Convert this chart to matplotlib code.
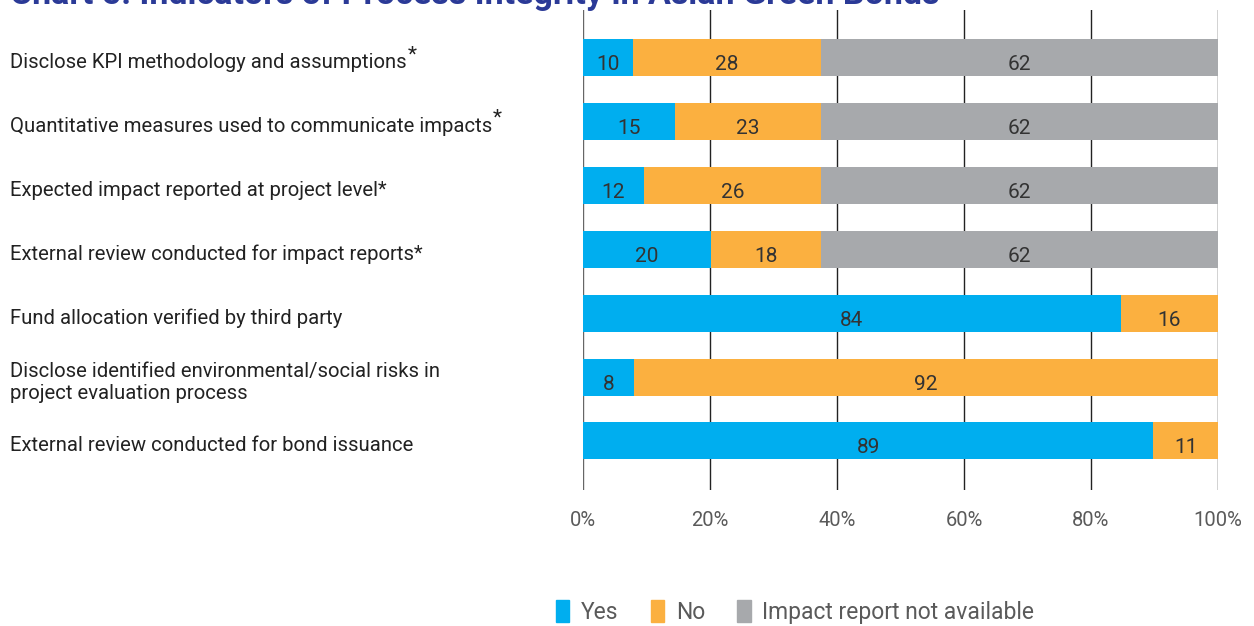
import matplotlib.pyplot as plt
from matplotlib.patches import Patch

plt.rcParams['font.family'] = ['Roboto', 'DejaVu Sans']

# Categorias (de cima para baixo)
categorias = [
    'Disclose KPI methodology and assumptions',
    'Quantitative measures used to communicate impacts',
    'Expected impact reported at project level*',
    'External review conducted for impact reports*',
    'Fund allocation verified by third party',
    'Disclose identified environmental/social risks in\nproject evaluation process',
    'External review conducted for bond issuance',
]
sobrescrito = [True, True, False, False, False, False, False]

# Larguras das barras (%)
sim = [7.9, 14.5, 9.6, 20.2, 84.7, 8.0, 89.8]
nao = [29.6, 23.0, 27.9, 17.3, 15.3, 92.0, 10.2]
indisp = [62.5, 62.5, 62.5, 62.5, 0, 0, 0]

# Rótulos impressos nas barras
rot_sim = [10, 15, 12, 20, 84, 8, 89]
rot_nao = [28, 23, 26, 18, 16, 92, 11]
rot_indisp = [62, 62, 62, 62, None, None, None]

cores = ['#00AEEF', '#FBB040', '#A7A9AC']
nomes = ['Yes', 'No', 'Impact report not available']

fig = plt.figure(figsize=(12.54, 6.26), dpi=100)
ax = fig.add_axes([583 / 1254, 1 - 490 / 626, (1218 - 583) / 1254, 480 / 626])

y = list(range(len(categorias)))
esq = [0] * len(y)
for valores, rotulos, cor in zip([sim, nao, indisp], [rot_sim, rot_nao, rot_indisp], cores):
    ax.barh(y, valores, left=esq, height=0.58, color=cor, zorder=3)
    for i, (v, r) in enumerate(zip(valores, rotulos)):
        if r is not None and v > 0:
            ax.text(esq[i] + v / 2, i + 0.11, str(r), ha='center', va='center',
                    fontsize=15, color='#333333', zorder=4)
    esq = [a + b for a, b in zip(esq, valores)]

ax.set_xlim(0, 100)
ax.set_ylim(6.77, -0.75)
ax.set_xticks([0, 20, 40, 60, 80, 100])
ax.set_xticklabels(['0%', '20%', '40%', '60%', '80%', '100%'], fontsize=14.5, color='#5a5a5a')
ax.tick_params(axis='x', length=0, pad=15)
ax.set_yticks([])
for s in ax.spines.values():
    s.set_visible(False)
for xv in [20, 40, 60, 80, 100]:
    ax.axvline(xv, color='#222222', lw=1, zorder=1)
ax.axvline(0, color='#666666', lw=1, zorder=1)

# Rótulos das categorias à esquerda
fig.canvas.draw()
renderer = fig.canvas.get_renderer()
for i, (cat, sup) in enumerate(zip(categorias, sobrescrito)):
    yf = ax.transData.transform((0, i))[1] / fig.bbox.height - 5 / 626
    t = fig.text(10 / 1254, yf, cat, ha='left', va='center', fontsize=14.6,
                 color='#222222', linespacing=1.2)
    if sup:
        bb = t.get_window_extent(renderer)
        fig.text(bb.x1 / 1254 + 0.0005, bb.y1 / 626 - 0.002, '*', ha='left', va='center',
                 fontsize=15, color='#222222')

# Título (cortado no topo, como na referência)
fig.text(10 / 1254, 1 - 4 / 626, 'Chart 5: Indicators of Process Integrity in Asian Green Bonds',
         ha='left', va='baseline', fontsize=24.5, fontweight='bold', color='#2B3A97')

handles = [Patch(color=c) for c in cores]
fig.legend(handles, nomes, loc='center', bbox_to_anchor=(795 / 1254, 1 - 612 / 626), ncol=3,
           frameon=False, fontsize=16.5, labelcolor='#5a5a5a', handlelength=0.6,
           handleheight=1.1, handletextpad=0.5, columnspacing=1.4)

plt.savefig('out.png', dpi=100)
plt.close()
